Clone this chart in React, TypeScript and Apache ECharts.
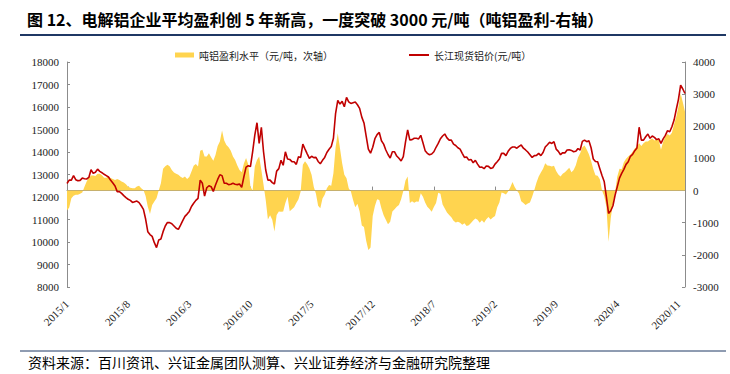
import React, { useEffect, useRef } from "react";
import * as echarts from "echarts";

// ---- Data (weekly samples, 4 per month) ----
const years = [2015, 2016, 2017, 2018, 2019, 2020];
const lastMonthOf2020 = 11;
const weeksPerMonth = 4;

const tickLabels = [
  "2015/1", "2015/8", "2016/3", "2016/10", "2017/5", "2017/12",
  "2018/7", "2019/2", "2019/9", "2020/4", "2020/11",
];

// 长江现货铝价 (元/吨)
const price2015 = [
  12600, 12750, 12750, 12950, 12770, 12720, 12740, 12840, 12810, 12800, 12870, 13210,
  13050, 13100, 13240, 13140, 13080, 13010, 12950, 12890, 12740, 12620, 12490, 12240,
  12240, 12160, 12060, 11970, 11900, 11850, 11760, 11790, 11820, 11750, 11610, 11450,
  11020, 10460, 10330, 10250, 9970, 9750, 10090, 10130, 10460, 10710, 10870, 10860,
];
const price2016 = [
  10810, 10710, 10610, 10560, 10750, 10950, 11140, 11240, 11360, 11580, 11720, 11850,
  11940, 12750, 12610, 12040, 12410, 12500, 12460, 12250, 12530, 12780, 12990, 12950,
  12610, 12610, 12550, 12570, 12610, 12570, 12550, 12580, 12430, 12900, 13330, 13390,
  13350, 14010, 14750, 15300, 14380, 15100, 14010, 13200, 12750, 12750, 12640, 12580,
];
const price2017 = [
  13150, 13260, 13630, 13410, 14010, 13690, 13670, 13570, 13570, 13450, 13790, 13760,
  14350, 14130, 13920, 13720, 13810, 13750, 13760, 13580, 13480, 13630, 13760, 13980,
  14120, 14240, 14610, 15720, 16290, 16130, 16250, 16010, 16430, 16230, 16160, 16190,
  16220, 16100, 15940, 15550, 15290, 14710, 14130, 13950, 14210, 14590, 14770, 14870,
];
const price2018 = [
  14500, 14350, 14090, 13890, 13730, 14010, 14010, 13820, 13720, 13600, 13790, 14440,
  14980, 14530, 14550, 14610, 14610, 14580, 14740, 14410, 14060, 13940, 13880, 13910,
  14010, 14210, 14380, 14590, 14710, 14800, 14630, 14530, 14530, 14350, 14290, 14190,
  14130, 13940, 13760, 13780, 13640, 13670, 13520, 13630, 13460, 13320, 13330, 13260,
];
const price2019 = [
  13380, 13360, 13270, 13300, 13460, 13570, 13690, 13940, 13940, 13840, 14030, 14160,
  14220, 14220, 14170, 14250, 14310, 14170, 14090, 14000, 13880, 13760, 13840, 13850,
  13940, 13840, 13980, 14220, 14320, 14430, 14380, 14460, 14130, 14030, 13880, 13970,
  13960, 14090, 14100, 14070, 14010, 14030, 14150, 14090, 14470, 14530, 14460, 14500,
];
const price2020 = [
  14190, 13690, 13580, 13570, 13260, 12960, 12690, 12010, 11270, 11390, 11610, 12090,
  12460, 12840, 13050, 13230, 13450, 13570, 13810, 13890, 14060, 14180, 15100, 14530,
  14530, 14680, 14800, 14610, 14710, 14650, 14550, 14590, 14380, 14580, 14740, 14950,
  14900, 15120, 15420, 15890, 16340, 16970, 16800, 16600,
];

// 吨铝盈利水平 (元/吨, 次轴)
const profit2015 = [
  -620, -530, -240, -160, -130, -130, -100, -60, 120, 280, 400, 470,
  470, 450, 520, 520, 480, 400, 400, 440, 390, 360, 330, 360,
  330, 280, 250, 200, 120, 90, 70, 70, 130, 150, 70, 20,
  -170, -500, -730, -450, -340, -240, 0, 230, 680, 760, 800, 760,
];
const profit2016 = [
  640, 560, 520, 490, 430, 390, 440, 360, 420, 590, 770, 830,
  750, 1240, 1270, 1060, 1060, 1160, 1040, 930, 1110, 1390, 1530, 1870,
  1560, 1420, 1350, 1240, 1060, 950, 780, 640, 570, 840, 1010, 810,
  120, 0, 750, 950, 1060, 640, 180, -290, -900, -770, -910, -1270,
];
const profit2017 = [
  -760, -650, -660, -650, -390, -190, -640, -580, -520, -390, -270, -30,
  800, 910, 820, 690, 490, 120, -100, -470, -550, -250, -130, 70,
  170, 150, 540, 1350, 1780, 1320, 850, 490, 380, 70, -30, -290,
  -520, -410, -650, -1090, -1130, -1560, -1850, -1770, -790, -480, -270, -290,
];
const profit2018 = [
  -560, -770, -910, -1050, -970, -650, -580, -500, -450, -270, -10, 310,
  440, -390, -330, -380, -340, -350, -80, -190, -370, -500, -570, -660,
  -510, -390, -70, -100, -430, -560, -680, -760, -830, -940, -990, -970,
  -1000, -1060, -1020, -1100, -1080, -1010, -930, -870, -910, -1000, -920, -1000,
];
const profit2019 = [
  -890, -820, -900, -840, -790, -520, -370, -60, -80, -120, -30, 100,
  270, 110, 0, -90, -330, -390, -450, -400, -370, -190, 20, 250,
  440, 560, 680, 850, 780, 770, 750, 770, 610, 500, 440, 520,
  570, 640, 710, 570, 640, 790, 1030, 1160, 1350, 1400, 1280, 1130,
];
const profit2020 = [
  920, 670, 480, 460, 350, 0, -170, -500, -1590, -860, -390, -40,
  440, 680, 660, 880, 990, 1060, 1120, 1210, 1310, 1370, 1470, 1390,
  1470, 1530, 1530, 1580, 1620, 1560, 1610, 1580, 1270, 1520, 1680, 1760,
  1710, 1800, 2060, 2300, 2610, 3020, 2750, 2450,
];

const TITLE = "图 12、电解铝企业平均盈利创 5 年新高，一度突破 3000 元/吨（吨铝盈利-右轴）";
const PROFIT_NAME = "吨铝盈利水平（元/吨，次轴）";
const PRICE_NAME = "长江现货铝价(元/吨）";
const SOURCE = "资料来源：百川资讯、兴证金属团队测算、兴业证券经济与金融研究院整理";

const CJK = '"Noto Sans CJK SC", "Noto Sans", sans-serif';
const SERIF = '"Liberation Serif", "DejaVu Serif", serif';
const YELLOW = "#FFD44F";
const RED = "#C00000";
const AXIS_GREY = "#8c8c8c";
const NAVY = "#1F3864";

function buildCategories(): string[] {
  const out: string[] = [];
  years.forEach((y) => {
    const lastM = y === 2020 ? lastMonthOf2020 : 12;
    for (let m = 1; m <= lastM; m++) {
      for (let w = 1; w <= weeksPerMonth; w++) out.push(`${y}/${m}/${w}`);
    }
  });
  return out;
}

export default function App() {
  const ref = useRef<HTMLDivElement>(null);

  useEffect(() => {
    if (!ref.current) return;
    const chart = echarts.init(ref.current, undefined, { renderer: "svg" });
    const categories = buildCategories();
    const price = [...price2015, ...price2016, ...price2017, ...price2018, ...price2019, ...price2020];
    const profit = [...profit2015, ...profit2016, ...profit2017, ...profit2018, ...profit2019, ...profit2020];

    const monthOf = (v: string) => v.split("/").slice(0, 2).join("/");
    const isTick = (_i: number, v: string) =>
      v.endsWith("/1") && v.split("/").length === 3 && tickLabels.includes(monthOf(v));

    const yLabel = {
      fontFamily: SERIF,
      fontSize: 11,
      color: "#1a1a1a",
      formatter: (v: number) => String(v),
    };

    chart.setOption({
      animation: false,
      backgroundColor: "#ffffff",
      title: {
        text: TITLE,
        left: 22,
        top: 6,
        textStyle: { fontFamily: CJK, fontSize: 16, fontWeight: "bold", color: "#000" },
      },
      legend: [
        {
          data: [{ name: PROFIT_NAME, icon: "rect" }],
          left: 170,
          top: 45,
          itemWidth: 19,
          itemHeight: 5,
          textStyle: { fontFamily: CJK, fontSize: 10, color: "#222" },
        },
        {
          data: [{ name: PRICE_NAME, icon: "rect" }],
          left: 404,
          top: 45,
          itemWidth: 20,
          itemHeight: 2,
          textStyle: { fontFamily: CJK, fontSize: 10, color: "#222" },
        },
      ],
      grid: { left: 67, right: 45, top: 62, bottom: 87, containLabel: false },
      xAxis: {
        type: "category",
        data: categories,
        boundaryGap: false,
        axisLine: { lineStyle: { color: AXIS_GREY, width: 1 } },
        axisTick: { inside: true, length: 4, interval: isTick, lineStyle: { color: AXIS_GREY } },
        axisLabel: {
          interval: isTick,
          rotate: 45,
          margin: 15,
          formatter: (v: string) => monthOf(v),
          fontFamily: SERIF,
          fontSize: 11,
          color: "#1a1a1a",
        },
        splitLine: { show: false },
      },
      yAxis: [
        {
          type: "value",
          position: "left",
          min: 8000,
          max: 18000,
          interval: 1000,
          axisLine: { show: true, lineStyle: { color: AXIS_GREY } },
          axisTick: { show: true, inside: true, length: 3, lineStyle: { color: AXIS_GREY } },
          axisLabel: { ...yLabel, margin: 8 },
          splitLine: { show: false },
        },
        {
          type: "value",
          position: "right",
          min: -3000,
          max: 4000,
          interval: 1000,
          axisLine: { show: true, lineStyle: { color: AXIS_GREY } },
          axisTick: { show: true, inside: true, length: 3, lineStyle: { color: AXIS_GREY } },
          axisLabel: { ...yLabel, margin: 8 },
          splitLine: { show: false },
        },
      ],
      series: [
        {
          name: PROFIT_NAME,
          type: "line",
          yAxisIndex: 1,
          data: profit,
          symbol: "none",
          showSymbol: false,
          lineStyle: { width: 0, color: YELLOW },
          itemStyle: { color: YELLOW },
          areaStyle: { color: YELLOW, opacity: 1 },
          z: 1,
        },
        {
          name: PRICE_NAME,
          type: "line",
          yAxisIndex: 0,
          data: price,
          symbol: "none",
          showSymbol: false,
          lineStyle: { width: 1.6, color: RED },
          itemStyle: { color: RED },
          z: 3,
        },
      ],
      graphic: [
        {
          type: "line",
          shape: { x1: 20, y1: 35, x2: 726, y2: 35 },
          style: { stroke: NAVY, lineWidth: 2 },
        },
        {
          type: "line",
          shape: { x1: 20, y1: 351, x2: 726, y2: 351 },
          style: { stroke: NAVY, lineWidth: 1 },
        },
        {
          type: "text",
          left: 28,
          top: 355,
          style: { text: SOURCE, font: `14px ${CJK}`, fill: "#000" },
        },
      ],
    });

    return () => chart.dispose();
  }, []);

  return (
    <div
      ref={ref}
      style={{ position: "fixed", left: 0, top: 0, width: 730, height: 374, background: "#fff" }}
    />
  );
}
